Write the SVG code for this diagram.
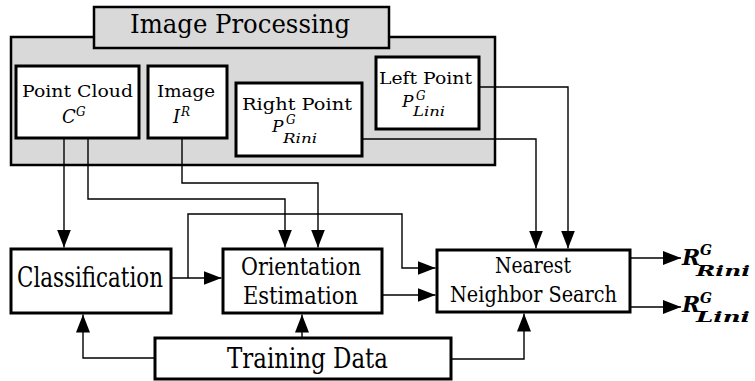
<svg xmlns="http://www.w3.org/2000/svg" width="755" height="381" viewBox="0 0 755 381">
<style>
.box{fill:#fff;stroke:#000;stroke-width:3}
.grp{fill:#d9d9d9;stroke:#000;stroke-width:2.5}
text{font-family:'DejaVu Serif','Liberation Serif',serif;fill:#000}
.m{font-style:italic}
.o{font-style:italic;font-weight:bold}
.c{fill:none;stroke:#000;stroke-width:1.4}
</style>
<defs>
<marker id="ah" markerUnits="userSpaceOnUse" markerWidth="18" markerHeight="14" refX="18" refY="7" orient="auto">
<path d="M0,0 L18,7 L0,14 z" fill="#000"/>
</marker>
</defs>
<g id="image-processing">
<rect class="grp" x="11" y="37" width="484" height="128"/>
<rect class="grp" x="94" y="7" width="295" height="41"/>
<text x="240" y="33" font-size="26" text-anchor="middle" textLength="220" lengthAdjust="spacingAndGlyphs">Image Processing</text>
</g>
<g id="point-cloud">
<rect class="box" x="16" y="66" width="123" height="72"/>
<text x="22" y="97" font-size="17" textLength="111" lengthAdjust="spacingAndGlyphs">Point Cloud</text>
<text class="m" x="62" y="123" font-size="18">C</text>
<text class="m" x="76" y="116" font-size="12">G</text>
</g>
<g id="image">
<rect class="box" x="148" y="66" width="79" height="72"/>
<text x="157" y="97" font-size="17" textLength="58" lengthAdjust="spacingAndGlyphs">Image</text>
<text class="m" x="173" y="123" font-size="18">I</text>
<text class="m" x="181" y="116" font-size="12">R</text>
</g>
<g id="right-point">
<rect class="box" x="236" y="83" width="126" height="73"/>
<text x="242" y="110" font-size="17" textLength="110" lengthAdjust="spacingAndGlyphs">Right Point</text>
<text class="m" x="272" y="132" font-size="17">P</text>
<text class="m" x="286" y="124" font-size="12">G</text>
<text class="m" x="283" y="143" font-size="12" textLength="34" lengthAdjust="spacingAndGlyphs">Rini</text>
</g>
<g id="left-point">
<rect class="box" x="376" y="57" width="103" height="72"/>
<text x="379" y="84" font-size="17" textLength="93" lengthAdjust="spacingAndGlyphs">Left Point</text>
<text class="m" x="402" y="107" font-size="17">P</text>
<text class="m" x="416" y="100" font-size="12">G</text>
<text class="m" x="413" y="116" font-size="12" textLength="32" lengthAdjust="spacingAndGlyphs">Lini</text>
</g>
<g id="classification">
<rect class="box" x="11" y="249" width="160" height="64"/>
<text x="17" y="287" font-size="28" textLength="146" lengthAdjust="spacingAndGlyphs">Classification</text>
</g>
<g id="orientation-estimation">
<rect class="box" x="223" y="249" width="159" height="64"/>
<text x="241" y="275" font-size="24" textLength="120" lengthAdjust="spacingAndGlyphs">Orientation</text>
<text x="243" y="304" font-size="24" textLength="115" lengthAdjust="spacingAndGlyphs">Estimation</text>
</g>
<g id="nearest-neighbor-search">
<rect class="box" x="437" y="250" width="193" height="62"/>
<text x="495" y="273" font-size="22" textLength="76" lengthAdjust="spacingAndGlyphs">Nearest</text>
<text x="450" y="302" font-size="22" textLength="167" lengthAdjust="spacingAndGlyphs">Neighbor Search</text>
</g>
<g id="training-data">
<rect class="box" x="155" y="338" width="296" height="41"/>
<text x="227" y="368" font-size="28" textLength="161" lengthAdjust="spacingAndGlyphs">Training Data</text>
</g>
<g id="outputs">
<text class="o" x="682" y="265" font-size="22">R</text>
<text class="o" x="700" y="255" font-size="14">G</text>
<text class="o" x="696" y="276" font-size="14" textLength="54" lengthAdjust="spacingAndGlyphs">Rini</text>
<text class="o" x="682" y="312" font-size="22">R</text>
<text class="o" x="700" y="303" font-size="14">G</text>
<text class="o" x="696" y="322" font-size="14" textLength="54" lengthAdjust="spacingAndGlyphs">Lini</text>
</g>
<g id="connectors">
<path class="c" d="M64,138 V247.5" marker-end="url(#ah)"/>
<path class="c" d="M88,138 V199 H285 V247.5" marker-end="url(#ah)"/>
<path class="c" d="M182,138 V183 H318 V247.5" marker-end="url(#ah)"/>
<path class="c" d="M362,139 H536 V248.5" marker-end="url(#ah)"/>
<path class="c" d="M479,87 H568 V248.5" marker-end="url(#ah)"/>
<path class="c" d="M171,278 H221.5" marker-end="url(#ah)"/>
<path class="c" d="M188,278 V214 H402 V268 H435.5" marker-end="url(#ah)"/>
<path class="c" d="M382,295 H435.5" marker-end="url(#ah)"/>
<path class="c" d="M302,338 V314.5" marker-end="url(#ah)"/>
<path class="c" d="M155,358 H83 V314.5" marker-end="url(#ah)"/>
<path class="c" d="M451,359 H524 V313.5" marker-end="url(#ah)"/>
<path class="c" d="M630,258 H681" marker-end="url(#ah)"/>
<path class="c" d="M630,307 H681" marker-end="url(#ah)"/>
</g>
</svg>
